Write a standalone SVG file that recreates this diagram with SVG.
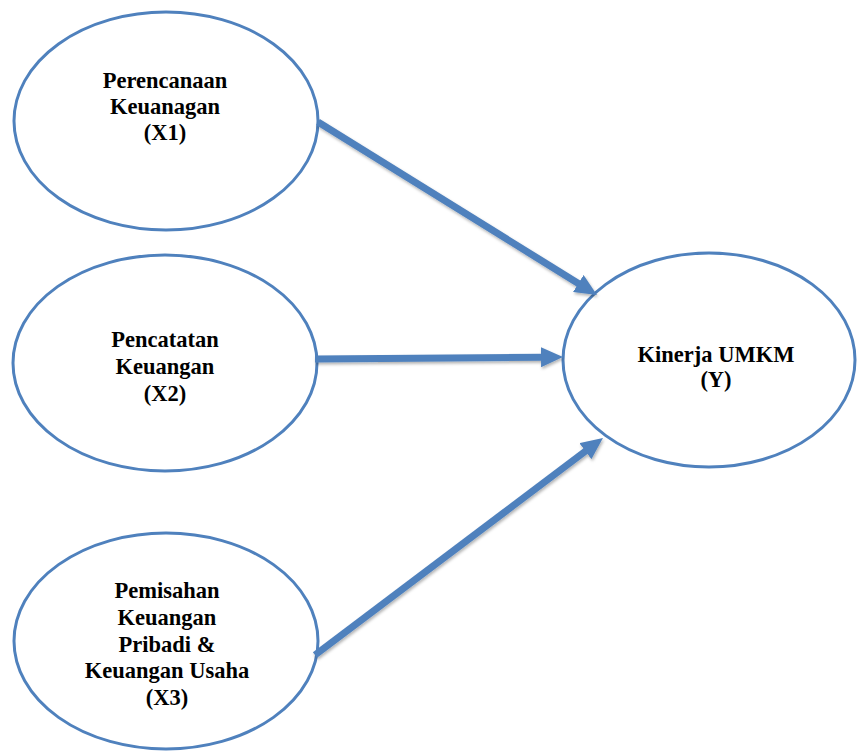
<svg xmlns="http://www.w3.org/2000/svg" width="857" height="753" viewBox="0 0 857 753">
  <style>
    .node { fill: #ffffff; stroke: #4F81BD; stroke-width: 3; }
    .lbl { font-family: "Liberation Serif", "Times New Roman", serif; font-weight: bold; font-size: 22.5px; fill: #000000; text-anchor: middle; }
    .conn { stroke: #4F81BD; stroke-width: 7; fill: none; marker-end: url(#ah); filter: url(#sh); }
  </style>
  <defs>
    <marker id="ah" markerUnits="userSpaceOnUse" markerWidth="22" markerHeight="20" refX="2" refY="10" orient="auto">
      <path d="M0,0 L22,10 L0,20 z" fill="#4F81BD"/>
    </marker>
    <filter id="sh" filterUnits="userSpaceOnUse" x="0" y="0" width="857" height="753">
      <feDropShadow dx="1" dy="2" stdDeviation="1.5" flood-color="#000000" flood-opacity="0.3"/>
    </filter>
  </defs>
  <rect width="857" height="753" fill="#ffffff"/>
  <g id="node-x1">
    <ellipse class="node" cx="166" cy="121" rx="152" ry="109"/>
    <text class="lbl" x="165" y="88">Perencanaan</text>
    <text class="lbl" x="165" y="114">Keuanagan</text>
    <text class="lbl" x="165" y="140">(X1)</text>
  </g>
  <g id="node-x2">
    <ellipse class="node" cx="165" cy="363" rx="152" ry="108"/>
    <text class="lbl" x="165" y="347">Pencatatan</text>
    <text class="lbl" x="165" y="374">Keuangan</text>
    <text class="lbl" x="165" y="401">(X2)</text>
  </g>
  <g id="node-x3">
    <ellipse class="node" cx="166" cy="641" rx="152" ry="108"/>
    <text class="lbl" x="167" y="598">Pemisahan</text>
    <text class="lbl" x="167" y="625">Keuangan</text>
    <text class="lbl" x="167" y="652">Pribadi &amp;</text>
    <text class="lbl" x="167" y="678">Keuangan Usaha</text>
    <text class="lbl" x="167" y="705">(X3)</text>
  </g>
  <g id="node-y">
    <ellipse class="node" cx="709" cy="360" rx="146" ry="107"/>
    <text class="lbl" x="716" y="362">Kinerja UMKM</text>
    <text class="lbl" x="716" y="387">(Y)</text>
  </g>
  <g id="connectors">
    <line class="conn" x1="318" y1="122" x2="580" y2="284.5"/>
    <line class="conn" x1="315" y1="359" x2="543" y2="357.2"/>
    <line class="conn" x1="315" y1="655" x2="587" y2="450"/>
  </g>
</svg>
